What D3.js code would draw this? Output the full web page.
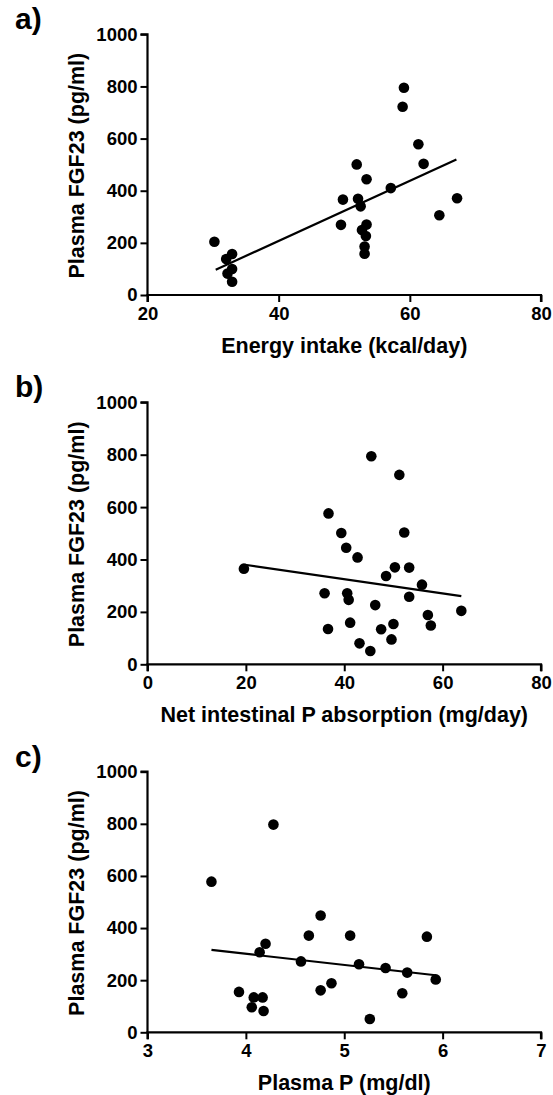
<!DOCTYPE html>
<html>
<head>
<meta charset="utf-8">
<script src="https://cdn.jsdelivr.net/npm/d3@7/dist/d3.min.js"></script>
<style>
  html, body { margin: 0; padding: 0; background: #fff; }
  svg { display: block; }
  text { font-family: "Liberation Sans", Arial, sans-serif; font-weight: bold; fill: #000; }
</style>
</head>
<body>
<svg id="chart" width="553" height="1095"></svg>
<script>
// ---------- Data ----------
const yTicks = [0, 200, 400, 600, 800, 1000];

// Panel a: Energy intake (kcal/day) vs Plasma FGF23 (pg/ml)
const energyX = [30.2, 32.0, 32.9, 32.2, 32.9, 32.9,
                 51.9, 53.4, 49.8, 52.1, 52.5, 49.5, 53.4, 52.7, 53.3, 53.1, 53.1,
                 57.1, 59.1, 58.9, 61.3, 62.1, 64.5, 67.2];
const energyY = [204, 138, 157, 82, 100, 51,
                 501, 444, 366, 369, 340, 269, 270, 249, 226, 186, 158,
                 410, 795, 722, 578, 503, 306, 371];
const energyFitX = [30.4, 67.1];
const energyFitY = [97, 520];
const energyTicks = [20, 40, 60, 80];

// Panel b: Net intestinal P absorption (mg/day) vs Plasma FGF23 (pg/ml)
const absorpX = [19.6, 45.5, 51.2, 36.8, 39.4, 40.4, 42.7, 52.2, 50.3, 53.2, 48.5, 55.8,
                 36.0, 40.6, 40.9, 53.2, 46.3, 57.0, 63.8, 57.6, 36.7, 41.2, 47.5, 50.0,
                 43.1, 49.6, 45.3];
const absorpY = [365, 794, 723, 576, 501, 445, 408, 503, 370, 369, 337, 304,
                 271, 271, 246, 258, 226, 188, 204, 148, 135, 159, 134, 154,
                 80, 95, 51];
const absorpFitX = [19.8, 63.8];
const absorpFitY = [380, 260];
const absorpTicks = [0, 20, 40, 60, 80];

// Panel c: Plasma P (mg/dl) vs Plasma FGF23 (pg/ml)
const plasmaPX = [3.65, 4.28, 4.76, 4.64, 5.06, 5.84, 4.20, 4.14, 4.56, 5.15, 5.42,
                  5.64, 5.93, 4.87, 4.76, 5.59, 3.93, 4.08, 4.17, 4.06, 4.18, 5.26];
const plasmaPY = [578, 797, 448, 371, 371, 367, 340, 307, 272, 261, 247,
                  229, 203, 188, 161, 150, 155, 134, 134, 96, 82, 51];
const plasmaFitX = [3.65, 5.93];
const plasmaFitY = [316, 219];
const plasmaTicks = [3, 4, 5, 6, 7];

const panels = [
  { label: "a)", xs: energyX, ys: energyY, fx: energyFitX, fy: energyFitY,
    xDomain: [20, 80], xTicks: energyTicks, xTitle: "Energy intake (kcal/day)",
    top: 34.3, bottom: 295 },
  { label: "b)", xs: absorpX, ys: absorpY, fx: absorpFitX, fy: absorpFitY,
    xDomain: [0, 80], xTicks: absorpTicks, xTitle: "Net intestinal P absorption (mg/day)",
    top: 402.3, bottom: 664.3 },
  { label: "c)", xs: plasmaPX, ys: plasmaPY, fx: plasmaFitX, fy: plasmaFitY,
    xDomain: [3, 7], xTicks: plasmaTicks, xTitle: "Plasma P (mg/dl)",
    top: 771.7, bottom: 1032.3 }
];

const svg = d3.select("#chart");
const left = 147.5, right = 541;

panels.forEach(p => {
  const x = d3.scaleLinear().domain(p.xDomain).range([left, right]);
  const y = d3.scaleLinear().domain([0, 1000]).range([p.bottom, p.top]);
  const g = svg.append("g");

  // Axes
  const xAxis = g.append("g")
    .attr("transform", `translate(0,${p.bottom})`)
    .call(d3.axisBottom(x).tickValues(p.xTicks).tickSize(7).tickPadding(5).tickFormat(d3.format("d")));
  const yAxis = g.append("g")
    .attr("transform", `translate(${left},0)`)
    .call(d3.axisLeft(y).tickValues(yTicks).tickSize(7).tickPadding(3).tickFormat(d3.format("d")));
  [xAxis, yAxis].forEach(a => {
    a.select(".domain").attr("stroke", "#000").attr("stroke-width", 2.2);
    a.selectAll(".tick line").attr("stroke", "#000").attr("stroke-width", 2);
    a.selectAll(".tick text").attr("font-size", 18.5).attr("font-weight", "bold")
      .attr("font-family", "Liberation Sans, Arial, sans-serif").attr("fill", "#000");
  });
  xAxis.select(".domain").attr("d", `M${left},7V0H${right}V7`);
  yAxis.select(".domain").attr("d", `M-7,${p.top}H0V${p.bottom}`);

  // Regression line
  g.append("line")
    .attr("x1", x(p.fx[0])).attr("y1", y(p.fy[0]))
    .attr("x2", x(p.fx[1])).attr("y2", y(p.fy[1]))
    .attr("stroke", "#000").attr("stroke-width", 2.2);

  // Points
  g.selectAll("circle.pt").data(p.xs.map((v, i) => [v, p.ys[i]]))
    .enter().append("circle")
    .attr("class", "pt")
    .attr("cx", d => x(d[0])).attr("cy", d => y(d[1]))
    .attr("r", 5.3).attr("fill", "#000");

  // Titles
  g.append("text")
    .attr("x", (left + right) / 2).attr("y", p.bottom + 58)
    .attr("text-anchor", "middle").attr("font-size", 21.5)
    .text(p.xTitle);
  g.append("text")
    .attr("transform", `translate(84,${(p.top + p.bottom) / 2 + 1}) rotate(-90)`)
    .attr("text-anchor", "middle").attr("font-size", 21.5)
    .text("Plasma FGF23 (pg/ml)");

  // Panel label
  g.append("text")
    .attr("x", 15).attr("y", p.top - 5)
    .attr("font-family", "'Open Sans', sans-serif")
    .attr("font-size", 30).attr("font-weight", "bold")
    .text(p.label);
});
</script>
</body>
</html>
